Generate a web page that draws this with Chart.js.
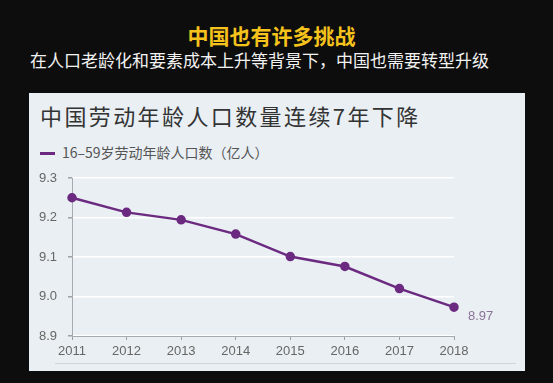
<!DOCTYPE html>
<html>
<head>
<meta charset="utf-8">
<script src="https://cdn.jsdelivr.net/npm/chart.js@4/dist/chart.umd.min.js"></script>
<style>
  body { margin: 0; width: 553px; height: 383px; background: #0d0d0d; overflow: hidden; position: relative; font-family: "Noto Sans CJK SC", sans-serif; }
  .head { position: absolute; left: 0; width: 553px; text-align: center; white-space: nowrap; }
  #mainTitle { top: 21px; color: #f6c31c; font-size: 21px; font-weight: bold; line-height: 28px; left: -5px; }
  #subTitle { top: 47px; color: #f2f2f2; font-size: 17px; line-height: 26px; left: -17px; }
  #panel { position: absolute; left: 29px; top: 93px; width: 496px; height: 278px; background: #e9eff3; }
  #chartTitle { position: absolute; left: 11px; top: 7px; font-size: 22px; letter-spacing: 2.4px; color: #333; line-height: 30px; white-space: nowrap; }
  #legend { position: absolute; left: 11px; top: 49px; font-size: 14px; color: #555; line-height: 20px; white-space: nowrap; }
  #legend span { display: inline-block; width: 15px; height: 3px; background: #6b2a80; vertical-align: middle; margin-right: 7px; position: relative; top: -1px; }
  #bottomLine { position: absolute; left: 26px; right: 9px; top: 270px; height: 1px; background: #cfd5da; }
  #chartWrap { position: absolute; left: 0; top: 0; width: 496px; height: 278px; }
</style>
</head>
<body>
<div class="head" id="mainTitle">中国也有许多挑战</div>
<div class="head" id="subTitle">在人口老龄化和要素成本上升等背景下，中国也需要转型升级</div>
<div id="panel">
  <div id="chartTitle">中国劳动年龄人口数量连续7年下降</div>
  <div id="legend"><span></span><b id="legendText" style="font-weight:normal"></b></div>
  <div id="bottomLine"></div>
  <div id="chartWrap"><canvas id="laborChart" width="496" height="278"></canvas></div>
</div>
<script>
// số liệu
const years = ['2011', '2012', '2013', '2014', '2015', '2016', '2017', '2018'];
const laborPop = [9.25, 9.213, 9.194, 9.158, 9.101, 9.076, 9.02, 8.973];
const seriesName = '16–59岁劳动年龄人口数（亿人）';
const yTicks = [8.9, 9.0, 9.1, 9.2, 9.3];
const lastLabel = '8.97';

const purple = '#6b2a80';
document.getElementById('legendText').textContent = seriesName;

// nhãn giá trị ở điểm cuối
const lastValuePlugin = {
    id: 'lastValue',
    afterDatasetsDraw(chart) {
        const meta = chart.getDatasetMeta(0);
        const pt = meta.data[meta.data.length - 1];
        const ctx = chart.ctx;
        ctx.save();
        ctx.font = '13px "Liberation Sans", sans-serif';
        ctx.fillStyle = '#8b7397';
        ctx.textBaseline = 'middle';
        ctx.fillText(lastLabel, pt.x + 14, pt.y + 9);
        ctx.restore();
    }
};

new Chart(document.getElementById('laborChart'), {
    type: 'line',
    data: {
        labels: years,
        datasets: [{
            label: seriesName,
            data: laborPop,
            borderColor: purple,
            backgroundColor: purple,
            borderWidth: 2.5,
            pointRadius: 3.5,
            pointHoverRadius: 3.5,
            tension: 0
        }]
    },
    options: {
        responsive: false,
        animation: false,
        layout: { padding: { top: 85, right: 71, left: 0, bottom: 0 } },
        plugins: { legend: { display: false }, tooltip: { enabled: false } },
        scales: {
            x: {
                offset: false,
                grid: { display: true, drawOnChartArea: false, tickLength: 4, tickColor: '#9aa0a5' },
                border: { color: '#a5abb0', width: 1 },
                ticks: { color: '#666', font: { family: 'Liberation Sans', size: 13 }, padding: 4, maxRotation: 0 },
                afterFit(scale) { scale.height = 35; }
            },
            y: {
                min: 8.9,
                max: 9.3,
                afterBuildTicks(scale) { scale.ticks = yTicks.map(v => ({ value: v })); },
                grid: { color: '#ffffff', lineWidth: 1.5, tickLength: 4, tickColor: '#9aa0a5' },
                border: { color: '#a5abb0', width: 1 },
                ticks: { color: '#666', font: { family: 'Liberation Sans', size: 13 }, padding: 11,
                    callback: v => v.toFixed(1) },
                afterFit(scale) { scale.width = 43; }
            }
        }
    },
    plugins: [lastValuePlugin]
});
</script>
</body>
</html>
